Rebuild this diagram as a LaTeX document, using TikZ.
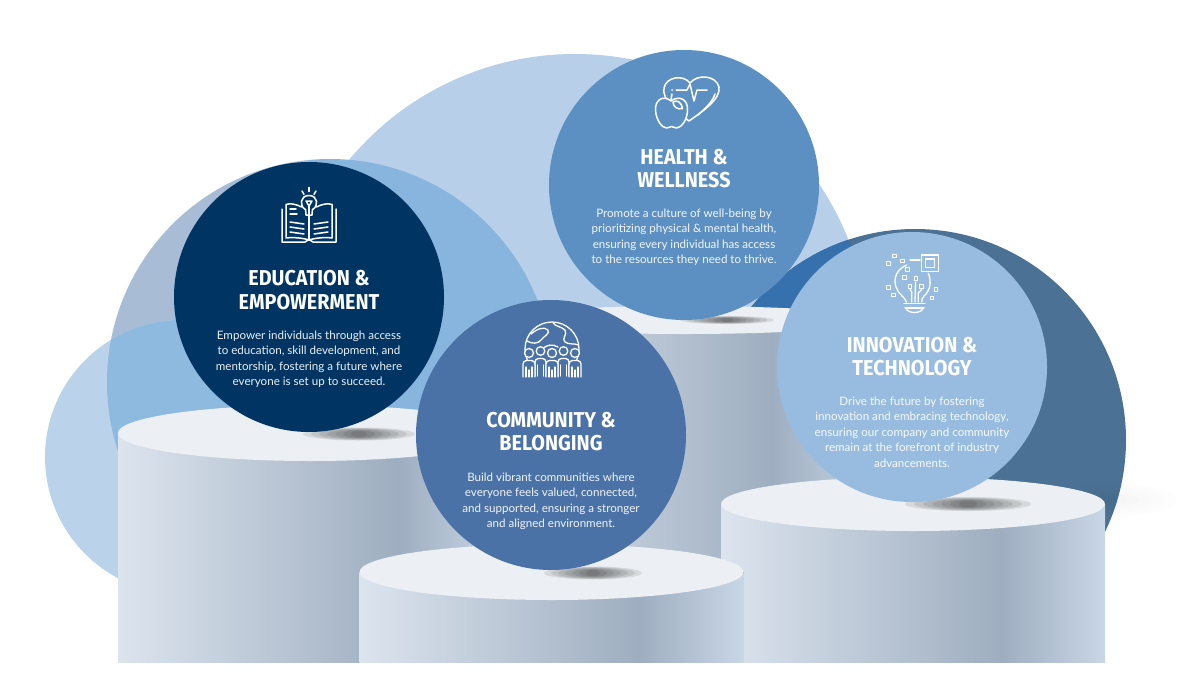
\documentclass[tikz,border=0pt]{standalone}
\usepackage{fontspec}
\setmainfont{Lato}
\newfontfamily\titlefont[FakeStretch=0.92]{Fira Sans Bold}

\definecolor{bigL}{HTML}{B7CFE8}
\definecolor{mGray}{HTML}{A8BCD6}
\definecolor{mBlue}{HTML}{87B5DD}
\definecolor{leftL}{HTML}{BBD3EA}
\definecolor{lmix}{HTML}{8FBADF}
\definecolor{darkc}{HTML}{4B7195}
\definecolor{sliver}{HTML}{3671AE}
\definecolor{educ}{HTML}{003563}
\definecolor{healthc}{HTML}{5C90C3}
\definecolor{commc}{HTML}{4A72A6}
\definecolor{innovc}{HTML}{98BCE0}
\definecolor{topA}{HTML}{ECF0F4}
\definecolor{sideA}{HTML}{DCE4EE}
\definecolor{sideB}{HTML}{9EAEC0}
\definecolor{sideC}{HTML}{C9D6E6}

\pgfdeclarehorizontalshading{pedside}{100bp}{color(0bp)=(sideA); color(25bp)=(sideA); color(61.5bp)=(sideB); color(75bp)=(sideC); color(100bp)=(sideC)}

\newcommand\pedestal[4]{%
  \fill[shading=pedside] ({#1-#3},#2) rectangle ({#1+#3},662);
  \fill[topA] (#1,#2) ellipse [x radius=#3, y radius=#4];
}
\newcommand\castshadow[4]{%
  \foreach \k in {1,...,7} {
    \fill[black, opacity=0.09] (#1,#2) ellipse [x radius={#3*\k/7}, y radius={#4*(0.4+0.6*\k/7)}];
  }
}
\newcommand\isq[2]{%
  \draw[icon, line width=1.1pt] ({#1-1.8},{#2-1.8}) rectangle ({#1+1.8},{#2+1.8});
}

\tikzset{
  ttl/.style={font=\titlefont\fontsize{21.5}{23}\selectfont, text=white, anchor=base, inner sep=0pt},
  bodytxt/.style={font=\fontsize{11.6}{15.5}\selectfont, text=white, text opacity=0.92, anchor=base, inner sep=0pt},
  icon/.style={draw=white, line width=1.5pt, line cap=round, line join=round},
  disc/.style={circle, minimum size=270pt, inner sep=0pt},
}

\begin{document}
\begin{tikzpicture}[x=1pt,y=-1pt]
\useasboundingbox (0,0) rectangle (1178,672);
\fill[white] (0,0) rectangle (1178,672);

% ---- background circles
\fill[bigL] (575,348) circle [radius=294];
\begin{scope}
  \clip (330,382) circle [radius=223];
  \fill[mBlue] (309,100) rectangle (600,700);
  \fill[mGray] (0,100) rectangle (309,700);
\end{scope}
\fill[leftL] (182,457) circle [radius=137];
\begin{scope}
  \clip (330,382) circle [radius=223];
  \fill[lmix] (182,457) circle [radius=137];
\end{scope}
\fill[darkc] (915,440) circle [radius=211];
\begin{scope}
  \clip (575,348) circle [radius=294];
  \fill[sliver] (915,440) circle [radius=211];
\end{scope}
\foreach \k in {1,...,5} {
  \fill[black, opacity=0.006] (1115,500) ellipse [x radius={62*\k/5}, y radius={16*\k/5}];
}

% ---- health pedestal and circle
\pedestal{684}{320}{192}{14}
\castshadow{727}{320}{47}{4}
\node[disc, fill=healthc] (health) at (684,185) {};

% ---- education pedestal and circle
\pedestal{310}{433}{192}{28}
\castshadow{359}{434}{56}{6.5}
\node[disc, fill=educ] (edu) at (309,297) {};

% ---- innovation pedestal and circle
\pedestal{913}{504}{192}{27}
\castshadow{968}{504}{63}{7}
\node[disc, fill=innovc] (innov) at (912,367) {};

% ---- community pedestal and circle
\pedestal{551.5}{572}{192}{28}
\castshadow{593}{573}{49}{6.5}
\node[disc, fill=commc] (comm) at (551,435) {};

% ---- texts: education
\node[ttl] (edu-t1) at (309,285.7) {EDUCATION \&};
\node[ttl] (edu-t2) at (309,309) {EMPOWERMENT};
\foreach \t [count=\i from 0] in {{Empower individuals through access},{to education, skill development, and},{mentorship, fostering a future where},{everyone is set up to succeed.}}
  \node[bodytxt] (edu-b\i) at (309,{339+15.6*\i}) {\t};

% ---- texts: health
\node[ttl] (hea-t1) at (684,164.5) {HEALTH \&};
\node[ttl] (hea-t2) at (684,187.8) {WELLNESS};
\foreach \t [count=\i from 0] in {{Promote a culture of well-being by},{prioritizing physical \& mental health,},{ensuring every individual has access},{to the resources they need to thrive.}}
  \node[bodytxt] (hea-b\i) at (684,{217+15.6*\i}) {\t};

% ---- texts: community
\node[ttl] (com-t1) at (551,427.5) {COMMUNITY \&};
\node[ttl] (com-t2) at (551,450.8) {BELONGING};
\foreach \t [count=\i from 0] in {{Build vibrant communities where},{everyone feels valued, connected,},{and supported, ensuring a stronger},{and aligned environment.}}
  \node[bodytxt] (com-b\i) at (551,{481+15.6*\i}) {\t};

% ---- texts: innovation
\node[ttl] (inn-t1) at (912,352.5) {INNOVATION \&};
\node[ttl] (inn-t2) at (912,375.8) {TECHNOLOGY};
\foreach \t [count=\i from 0] in {{Drive the future by fostering},{innovation and embracing technology,},{ensuring our company and community},{remain at the forefront of industry},{advancements.}}
  \node[bodytxt] (inn-b\i) at (912,{405+15.6*\i}) {\t};

% ---- icon: book with bulb
\begin{scope}[icon]
  \draw (282,209) -- (282,242) -- (305,242) -- (309,239.5) -- (313,242) -- (336,242) -- (336,209);
  \draw (301.5,207) .. controls (296,204) and (290,203) .. (286,204.5) -- (286,238) .. controls (293,237) and (303,238) .. (309,240);
  \draw (316.5,207) .. controls (322,204) and (328,203) .. (332,204.5) -- (332,238) .. controls (325,237) and (315,238) .. (309,240);
  \draw (309,215) -- (309,240);
  \draw (305.6,209.6) .. controls (299,206) and (300,195.5) .. (309,195.5) .. controls (318,195.5) and (319,206) .. (312.4,209.6);
  \draw (305.6,209.6) -- (306,215) -- (312,215) -- (312.4,209.6);
  \draw (306,201) -- (312,201) -- (309,206) -- cycle;
  \draw (309,206) -- (309,215);
  \draw (302,191) -- (304,194.5);
  \draw (309,187.5) -- (309,191.5);
  \draw (316,191) -- (314,194.5);
  \draw (290,209) -- (296,209);
  \draw (290,214) -- (297,214);
  \draw (290,222) -- (304,224);
  \draw (290,227) -- (304,229);
  \draw (290,232) -- (304,234);
  \draw (314,224) -- (328,222);
  \draw (314,229) -- (328,227);
  \draw (314,234) -- (328,232);
\end{scope}

% ---- icon: heart and apple
\begin{scope}[icon]
  \draw (689,121) .. controls (676,111) and (662,100) .. (664,88) .. controls (666,77) and (683,74) .. (690,83) .. controls (697,74) and (716,75) .. (719,87) .. controls (721,99) and (703,111) .. (689,121);
  \draw (698,115) .. controls (706,108) and (713,101) .. (715,94);
  \fill[white] (672,90) circle [radius=1];
  \draw (676,90) -- (687,90) -- (690,84) -- (694,101) -- (697,90) -- (707,90);
  \draw[fill=healthc] (671,101) .. controls (664,95) and (655,99) .. (655.5,110) .. controls (656,120) and (662,128) .. (666.5,128) .. controls (669,128) and (670,126.5) .. (671.5,126.5) .. controls (673,126.5) and (674,128) .. (676.5,128) .. controls (681,128) and (687.5,120) .. (687.5,110) .. controls (688,99) and (679,95) .. (671,101) -- cycle;
  \draw (671,100) -- (672,94);
  \draw (673,102) .. controls (677,99) and (682,103) .. (682.5,108.5) .. controls (678,110) and (673,107) .. (673,102) -- cycle;
\end{scope}

% ---- icon: globe and people
\begin{scope}[icon, line width=1.3pt]
  \draw (552,349) circle [radius=27];
  \draw (531,334) .. controls (537,329) and (544,326) .. (548,330) .. controls (550,334) and (544,336) .. (541,340) .. controls (538,344) and (532,344) .. (527,341);
  \draw (553,322.5) .. controls (555,327) and (561,326) .. (565,330) .. controls (568,335) and (561,338) .. (565,342) .. controls (569,345) and (574,343) .. (578.5,345);
  \draw (542,350) .. controls (546,344) and (553,344) .. (558,347);
  \foreach \px in {540.5,563.5} {
    \draw[fill=commc, rounded corners=3.5pt] ({\px-5.5},376) -- ({\px-5.5},358.5) -- ({\px+5.5},358.5) -- ({\px+5.5},376);
    \draw[fill=commc] (\px,351) circle [radius=4.3];
    \draw ({\px-2.8},365) -- ({\px-2.8},376);
    \draw ({\px+2.8},365) -- ({\px+2.8},376);
  }
  \foreach \px in {529,552,575} {
    \draw[fill=commc, rounded corners=3.5pt] ({\px-6},377) -- ({\px-6},360.5) -- ({\px+6},360.5) -- ({\px+6},377);
    \draw[fill=commc] (\px,353) circle [radius=4.5];
    \draw ({\px-3},367) -- ({\px-3},377);
    \draw ({\px+3},367) -- ({\px+3},377);
    \draw (\px,370) -- (\px,377);
  }
\end{scope}

% ---- icon: circuit bulb
\begin{scope}[icon, line width=1.3pt]
  \draw (906.7,265) .. controls (897,269) and (893,278) .. (896,287) .. controls (898,294) and (905,297) .. (906.5,302);
  \draw (928.3,273.3) .. controls (932,282) and (930,291) .. (924,296) .. controls (922,298) and (921.7,300) .. (921.7,302);
  \draw (904,303.3) -- (925,303.3);
  \draw (905,308) -- (924,308);
  \draw (906,308) .. controls (907,314) and (922,314) .. (923,308);
  \draw (911.7,302) -- (911.7,292) -- (910,289.5);
  \draw (915,302) -- (915.5,282);
  \draw (918.3,302) -- (918.3,293) -- (921.7,289.5);
  \draw (910,260) -- (920,260);
  \draw (921.7,255) rectangle (938.3,271.7);
  \draw (925.5,259) rectangle (934.5,267.7);
\end{scope}
\isq{894.3}{256}
\isq{888.3}{263.3}
\isq{902.3}{261}
\isq{907.3}{269.3}
\isq{904.3}{277.3}
\isq{916}{278.3}
\isq{910}{286.5}
\isq{921.7}{286.5}
\isq{888.3}{287.3}
\isq{893.3}{295}
\isq{936}{289.3}
\isq{932}{298}
\end{tikzpicture}
\end{document}
